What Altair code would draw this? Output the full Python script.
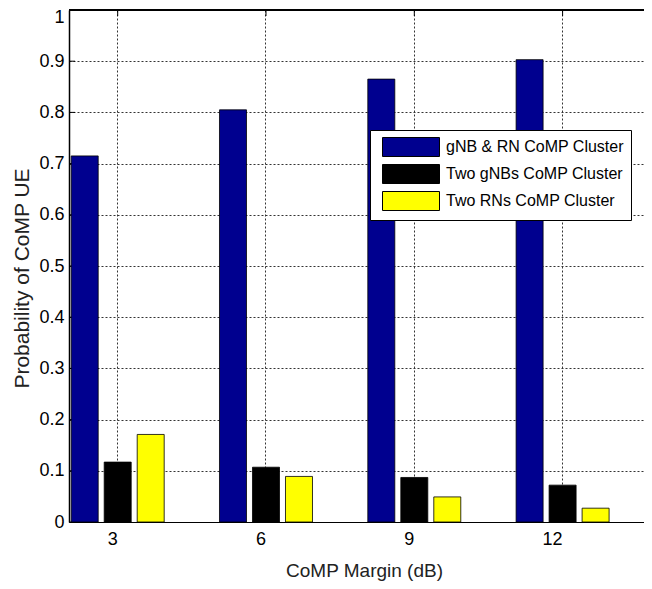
import altair as alt
import pandas as pd

margins = ["3", "6", "9", "12"]
series = ["gNB & RN CoMP Cluster", "Two gNBs CoMP Cluster", "Two RNs CoMP Cluster"]
gnb_rn = [0.715, 0.805, 0.865, 0.903]
two_gnbs = [0.117, 0.107, 0.087, 0.072]
two_rns = [0.171, 0.089, 0.049, 0.027]
colors = ["#00008F", "#000000", "#FFFF00"]
y_ticks = [0, 0.1, 0.2, 0.3, 0.4, 0.5, 0.6, 0.7, 0.8, 0.9, 1.0]

rows = []
for s, vals in zip(series, [gnb_rn, two_gnbs, two_rns]):
    for m, v in zip(margins, vals):
        rows.append({"margin": m, "series": s, "value": v})
df = pd.DataFrame(rows)

W, H = 575, 512
FONT = "Liberation Sans"

xscale = alt.Scale(domain=margins, paddingInner=0.3729, paddingOuter=0.1251,
                   align=0.0593, round=False)
yscale = alt.Scale(domain=[0, 1], nice=False, zero=True)

x_enc = alt.X(
    "margin:N", scale=xscale, sort=margins,
    axis=alt.Axis(
        labelAngle=0, bandPosition=0.5, grid=True, gridDash=[2, 2],
        gridColor="#333", gridWidth=1, ticks=False, tickSize=0,
        domainColor="black", domainWidth=1.2,
        labelFont=FONT, labelFontSize=18, labelColor="black", labelPadding=17,
        title="CoMP Margin (dB)", titleFont=FONT, titleFontSize=19,
        titleFontWeight="normal", titleColor="#222",
        titleX=295, titleY=54, titleBaseline="alphabetic",
    ),
)
y_enc = alt.Y(
    "value:Q", scale=yscale,
    axis=alt.Axis(
        values=y_ticks, format=".1~f", grid=True, gridDash=[2, 2],
        gridColor="#333", gridWidth=1, ticks=False, tickSize=0,
        domainColor="black", domainWidth=1.5,
        labelFont=FONT, labelFontSize=18, labelColor="black", labelPadding=5,
        labelOffset={"condition": {"test": "datum.value == 1", "value": 7}, "value": 0},
        title="Probability of CoMP UE", titleFont=FONT, titleFontSize=21,
        titleFontWeight="normal", titleColor="#222",
        titleX=-37, titleY=268, titleBaseline="bottom",
    ),
)

bars = alt.Chart(df).mark_bar(stroke="black", strokeWidth=0.8, opacity=1).encode(
    x=x_enc,
    y=y_enc,
    xOffset=alt.XOffset("series:N", sort=series,
                        scale=alt.Scale(domain=series, paddingInner=0.1818,
                                        paddingOuter=0, round=False)),
    color=alt.Color(
        "series:N", sort=series,
        scale=alt.Scale(domain=series, range=colors),
        legend=alt.Legend(
            title=None, orient="none", legendX=301, legendY=120,
            strokeColor="black", fillColor="white", padding=7,
            symbolType="M-3,-1H3V1H-3Z", symbolSize=361,
            symbolStrokeColor="black", symbolStrokeWidth=1, symbolOpacity=1,
            symbolOffset=24, labelOffset=25, labelLimit=400,
            labelFont=FONT, labelFontSize=16, labelColor="black",
            rowPadding=3,
        ),
    ),
)

ytick_df = pd.DataFrame({"value": y_ticks})
yticks = alt.Chart(ytick_df).mark_rule(color="black", strokeWidth=1).encode(
    y=alt.Y("value:Q", scale=yscale),
    x=alt.value(0),
    x2=alt.value(6),
)
xtick_df = pd.DataFrame({"margin": margins})
xticks = alt.Chart(xtick_df).mark_rule(color="black", strokeWidth=1).encode(
    x=alt.X("margin:N", scale=xscale, sort=margins),
    y=alt.value(0),
    y2=alt.value(6),
)
top_border = alt.Chart(xtick_df).mark_rule(color="black", strokeWidth=1.5).encode(
    x=alt.value(0), x2=alt.value(W), y=alt.value(0),
)

chart = alt.layer(yticks, xticks, top_border, bars).properties(
    width=W, height=H,
    autosize=alt.AutoSizeParams(type="none"),
    padding={"left": 61, "top": 2, "right": 0, "bottom": 59},
).configure_view(
    stroke="transparent", fill="white"
).configure(background="white")

chart.save("out.html", embed_options={"renderer": "svg", "actions": False})
